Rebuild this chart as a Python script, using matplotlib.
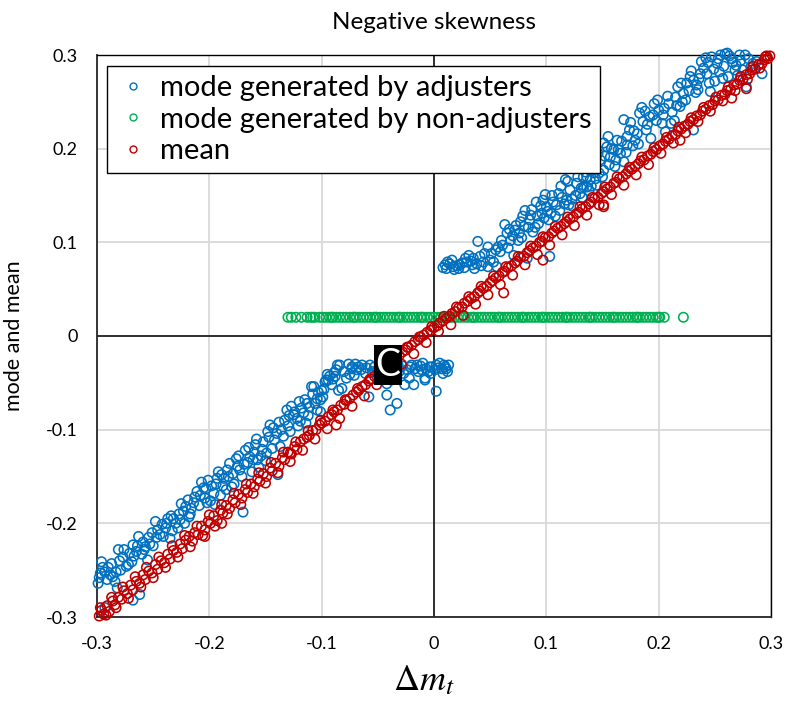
import matplotlib
matplotlib.use("Agg")
import matplotlib.pyplot as plt
from matplotlib.lines import Line2D

plt.rcParams['font.family'] = ['Lato', 'DejaVu Sans']
plt.rcParams['mathtext.fontset'] = 'stix'

# ---------------- data ----------------
adj_x = [
    -0.299, -0.297, -0.296, -0.293, -0.288, -0.286, -0.281, -0.282, -0.293, -0.277,
    -0.274, -0.269, -0.268, -0.268, -0.262, -0.263, -0.259, -0.257, -0.255, -0.251,
    -0.248, -0.244, -0.239, -0.235, -0.232, -0.228, -0.225, -0.222, -0.219, -0.216,
    -0.211, -0.207, -0.204, -0.201, -0.196, -0.195, -0.192, -0.189, -0.185, -0.182,
    -0.180, -0.176, -0.173, -0.170, -0.168, -0.164, -0.159, -0.156, -0.152, -0.149,
    -0.146, -0.142, -0.139, -0.136,
    -0.290, -0.284, -0.279, -0.271, -0.265, -0.260, -0.253, -0.247, -0.242, -0.237,
    -0.233, -0.227, -0.223, -0.218, -0.214, -0.209, -0.203, -0.199, -0.194, -0.190,
    -0.187, -0.183, -0.178, -0.175, -0.171, -0.166, -0.162, -0.160, -0.157, -0.153,
    -0.150, -0.147, -0.144, -0.140, -0.137,
    -0.131, -0.127, -0.122, -0.118, -0.113, -0.109, -0.104, -0.101, -0.099, -0.097,
    -0.094, -0.088, -0.084, -0.082, -0.078, -0.073, -0.069, -0.064, -0.061, -0.058,
    -0.042, -0.039, -0.033, -0.038, -0.026, -0.020, -0.018, -0.014, -0.010, -0.008,
    -0.004, 0.001, 0.002, 0.005, 0.010, -0.021, -0.015, -0.011, -0.007, -0.002,
    0.002, 0.007, 0.011, -0.042, -0.008, -0.086, -0.073, -0.067, -0.057, -0.107,
    -0.096, -0.093, -0.085, -0.101, -0.104,
    -0.134, -0.130, -0.128, -0.125, -0.121, -0.119, -0.116, -0.114, -0.111, -0.106,
    -0.103, -0.098, -0.091, -0.089, -0.076, -0.071, -0.053, -0.050, -0.047, -0.035,
    -0.031, -0.028, -0.024, 0.013, 0.008, -0.003,
    -0.298, -0.295, -0.291, -0.287, -0.283, -0.280, -0.276, -0.272, -0.267, -0.264,
    -0.258, -0.254, -0.250, -0.246, -0.241, -0.238, -0.234, -0.230, -0.226, -0.221,
    -0.217, -0.213, -0.208, -0.205, -0.202, -0.198, -0.193, -0.188, -0.184, -0.179,
    -0.174, -0.169, -0.165, -0.161, -0.158, -0.154, -0.148, -0.143, -0.138, -0.133,
    -0.129, -0.124, -0.120, -0.115, -0.112, -0.108, -0.100, -0.095, -0.090, -0.087,
    -0.080, -0.075, -0.070, -0.065, -0.060, -0.055, -0.044, -0.040, -0.032, -0.027,
    -0.022, -0.017, -0.012, -0.005, 0.004, 0.009, 0.012,
    0.010, 0.011, 0.016, 0.017, 0.022, 0.025, 0.028, 0.031, 0.034, 0.036,
    0.039, 0.041, 0.044, 0.048, 0.048, 0.051, 0.056, 0.057, 0.060, 0.065,
    0.063, 0.068, 0.071, 0.072, 0.075, 0.077, 0.080, 0.081, 0.083, 0.085,
    0.088, 0.091, 0.093, 0.096, 0.099, 0.100, 0.102, 0.103, 0.106, 0.111,
    0.112, 0.117, 0.118, 0.121, 0.124, 0.127, 0.130, 0.133, 0.136, 0.139,
    0.142, 0.145, 0.148, 0.151, 0.154, 0.157, 0.161, 0.164, 0.169, 0.172,
    0.133, 0.136, 0.142, 0.146, 0.151, 0.155, 0.160, 0.163, 0.169, 0.172,
    0.174, 0.179, 0.183, 0.186, 0.189, 0.192, 0.193, 0.196, 0.200, 0.203,
    0.206, 0.209, 0.212, 0.215, 0.217, 0.219, 0.222, 0.225, 0.228, 0.231,
    0.234, 0.235, 0.231, 0.238, 0.240, 0.243, 0.246, 0.247, 0.250, 0.252,
    0.255, 0.258, 0.261, 0.262, 0.265, 0.269, 0.272, 0.275, 0.278, 0.280,
    0.284, 0.292,
    0.014, 0.020, 0.027, 0.033, 0.042, 0.053, 0.059, 0.066, 0.070, 0.078,
    0.086, 0.090, 0.095, 0.098, 0.104, 0.109, 0.114, 0.120, 0.126, 0.131,
    0.138, 0.144, 0.150, 0.156, 0.166, 0.177, 0.181, 0.188, 0.198, 0.205,
    0.214, 0.221, 0.227, 0.237, 0.244, 0.254, 0.266, 0.259, 0.270,
    0.008, 0.012, 0.018, 0.023, 0.029, 0.035, 0.038, 0.045, 0.050, 0.055,
    0.061, 0.067, 0.073, 0.076, 0.079, 0.084, 0.087, 0.092, 0.097, 0.101,
    0.105, 0.108, 0.113, 0.116, 0.119, 0.123, 0.128, 0.132, 0.135, 0.140,
    0.143, 0.147, 0.152, 0.158, 0.162, 0.167, 0.171, 0.175, 0.178, 0.182,
    0.185, 0.190, 0.195, 0.199, 0.204, 0.208, 0.211, 0.216, 0.220, 0.224,
    0.229, 0.233, 0.236, 0.242, 0.245, 0.249, 0.253, 0.257, 0.263, 0.268,
    0.273, 0.277, 0.282, 0.287,
]
adj_y = [
    -0.264, -0.253, -0.241, -0.252, -0.255, -0.257, -0.228, -0.269, -0.290, -0.236,
    -0.246, -0.241, -0.223, -0.282, -0.276, -0.214, -0.220, -0.225, -0.239, -0.210,
    -0.198, -0.212, -0.205, -0.216, -0.195, -0.205, -0.179, -0.200, -0.175, -0.184,
    -0.166, -0.156, -0.173, -0.154, -0.168, -0.180, -0.145, -0.148, -0.164, -0.136,
    -0.161, -0.131, -0.143, -0.188, -0.122, -0.129, -0.116, -0.140, -0.113, -0.125,
    -0.095, -0.111, -0.148, -0.100,
    -0.247, -0.262, -0.250, -0.232, -0.230, -0.233, -0.222, -0.215, -0.201, -0.195,
    -0.208, -0.190, -0.187, -0.193, -0.178, -0.181, -0.163, -0.176, -0.158, -0.170,
    -0.152, -0.150, -0.158, -0.139, -0.150, -0.135, -0.145, -0.124, -0.132, -0.121,
    -0.133, -0.108, -0.120, -0.104, -0.118,
    -0.079, -0.075, -0.088, -0.077, -0.072, -0.054, -0.067, -0.081, -0.065, -0.049,
    -0.047, -0.043, -0.031, -0.056, -0.045, -0.033, -0.036, -0.031, -0.040, -0.065,
    -0.063, -0.079, -0.072, -0.047, -0.052, -0.031, -0.052, -0.038, -0.029, -0.045,
    -0.033, -0.036, -0.059, -0.029, -0.033, -0.033, -0.031, -0.036, -0.035, -0.033,
    -0.031, -0.035, -0.035, -0.051, -0.047, -0.031, -0.035, -0.033, -0.031, -0.054,
    -0.047, -0.043, -0.058, -0.068, -0.079,
    -0.107, -0.096, -0.102, -0.084, -0.096, -0.091, -0.082, -0.093, -0.076, -0.072,
    -0.060, -0.057, -0.052, -0.039, -0.030, -0.042, -0.033, -0.036, -0.030, -0.034,
    -0.038, -0.032, -0.036, -0.031, -0.040, -0.040,
    -0.258, -0.247, -0.260, -0.243, -0.252, -0.240, -0.228, -0.244, -0.235, -0.224,
    -0.228, -0.215, -0.224, -0.207, -0.214, -0.200, -0.192, -0.200, -0.196, -0.182,
    -0.190, -0.172, -0.170, -0.162, -0.178, -0.160, -0.152, -0.160, -0.143, -0.147,
    -0.128, -0.137, -0.119, -0.132, -0.110, -0.128, -0.102, -0.098, -0.092, -0.090,
    -0.085, -0.081, -0.070, -0.068, -0.085, -0.062, -0.058, -0.041, -0.046, -0.036,
    -0.038, -0.041, -0.030, -0.036, -0.034, -0.038, -0.035, -0.032, -0.031, -0.040,
    -0.045, -0.035, -0.032, -0.038, -0.034, -0.031, -0.038,
    0.076, 0.072, 0.081, 0.074, 0.072, 0.078, 0.083, 0.086, 0.076, 0.072,
    0.101, 0.085, 0.079, 0.074, 0.095, 0.088, 0.074, 0.095, 0.102, 0.110,
    0.119, 0.102, 0.086, 0.113, 0.102, 0.122, 0.117, 0.134, 0.083, 0.124,
    0.111, 0.143, 0.120, 0.131, 0.151, 0.138, 0.124, 0.085, 0.143, 0.152,
    0.134, 0.167, 0.145, 0.156, 0.138, 0.163, 0.152, 0.170, 0.159, 0.167,
    0.174, 0.161, 0.188, 0.177, 0.202, 0.191, 0.181, 0.199, 0.186, 0.204,
    0.159, 0.170, 0.181, 0.195, 0.206, 0.213, 0.199, 0.209, 0.231, 0.213,
    0.220, 0.209, 0.238, 0.229, 0.220, 0.234, 0.211, 0.248, 0.241, 0.227,
    0.218, 0.248, 0.239, 0.255, 0.266, 0.245, 0.259, 0.270, 0.277, 0.273,
    0.268, 0.263, 0.220, 0.293, 0.286, 0.280, 0.261, 0.298, 0.272, 0.291,
    0.300, 0.288, 0.302, 0.277, 0.296, 0.289, 0.300, 0.284, 0.266, 0.296,
    0.291, 0.280,
    0.077, 0.075, 0.073, 0.080, 0.075, 0.079, 0.090, 0.094, 0.107, 0.105,
    0.129, 0.116, 0.139, 0.126, 0.131, 0.140, 0.148, 0.140, 0.150, 0.158,
    0.155, 0.168, 0.170, 0.183, 0.195, 0.203, 0.216, 0.240, 0.230, 0.243,
    0.230, 0.250, 0.262, 0.280, 0.292, 0.282, 0.292, 0.301, 0.278,
    0.073, 0.079, 0.071, 0.076, 0.079, 0.083, 0.077, 0.088, 0.081, 0.092,
    0.097, 0.114, 0.118, 0.110, 0.128, 0.116, 0.135, 0.128, 0.145, 0.133,
    0.150, 0.128, 0.160, 0.141, 0.165, 0.146, 0.170, 0.148, 0.175, 0.160,
    0.186, 0.174, 0.192, 0.200, 0.188, 0.208, 0.196, 0.228, 0.219, 0.205,
    0.244, 0.226, 0.236, 0.252, 0.236, 0.256, 0.227, 0.246, 0.270, 0.252,
    0.283, 0.260, 0.275, 0.297, 0.270, 0.285, 0.296, 0.275, 0.299, 0.284,
    0.294, 0.300, 0.287, 0.293,
]

nonadj_x = [
    -0.130, -0.127, -0.123, -0.118, -0.113, -0.110, -0.106, -0.102, -0.099, -0.096,
    -0.093, -0.090, -0.087, -0.084, -0.081, -0.078, -0.075, -0.072, -0.069, -0.066,
    -0.063, -0.060, -0.057, -0.054, -0.051, -0.048, -0.045, -0.042, -0.039, -0.036,
    -0.033, -0.030, -0.027, -0.024, -0.021, -0.018, -0.015, -0.012, -0.009, -0.006,
    -0.003, 0.000, 0.003, 0.006, 0.009, 0.012, 0.015, 0.018, 0.021, 0.024,
    0.027, 0.030, 0.033, 0.036, 0.039, 0.042, 0.045, 0.048, 0.051, 0.054,
    0.057, 0.060, 0.063, 0.066, 0.069, 0.072, 0.075, 0.078, 0.081, 0.084,
    0.087, 0.090, 0.093, 0.096, 0.099, 0.102, 0.105, 0.108, 0.111, 0.114,
    0.117, 0.120, 0.123, 0.126, 0.129, 0.132, 0.135, 0.138, 0.141, 0.144,
    0.147, 0.150, 0.153, 0.156, 0.159, 0.162, 0.165, 0.168, 0.171, 0.174,
    0.177, 0.180, 0.183, 0.186, 0.189, 0.192, 0.195, 0.198, 0.201, 0.205,
    0.222,
    -0.108, -0.091, -0.071, -0.052, -0.031, -0.011, 0.013, 0.035, 0.058, 0.079,
    0.097, 0.118, 0.139, 0.160, 0.181, 0.200,
]
nonadj_y = [0.02] * len(nonadj_x)

mean_x = [
    -0.298, -0.296, -0.294, -0.291, -0.289, -0.286, -0.284, -0.281, -0.278, -0.276,
    -0.273, -0.270, -0.268, -0.265, -0.262, -0.259, -0.257, -0.254, -0.251, -0.248,
    -0.246, -0.243, -0.240, -0.237, -0.235, -0.232, -0.229, -0.226, -0.224, -0.221,
    -0.218, -0.215, -0.213, -0.210, -0.207, -0.204, -0.201, -0.199, -0.196, -0.193,
    -0.190, -0.188, -0.185, -0.182, -0.179, -0.177, -0.174, -0.171, -0.168, -0.166,
    -0.163, -0.160, -0.157, -0.155, -0.152, -0.149, -0.146, -0.144, -0.141, -0.138,
    -0.135, -0.133, -0.130, -0.127, -0.124, -0.122, -0.119, -0.116, -0.113, -0.111,
    -0.108, -0.105, -0.102, -0.100, -0.097, -0.094, -0.091, -0.089, -0.086, -0.083,
    -0.080, -0.078, -0.075, -0.072, -0.069, -0.067, -0.064, -0.061, -0.058, -0.056,
    -0.053, -0.050, -0.047, -0.045, -0.042, -0.039, -0.036, -0.034, -0.031, -0.028,
    -0.025, -0.023, -0.020, -0.017, -0.014, -0.012, -0.009, -0.006, -0.003, 0.000,
    0.003, 0.005, 0.008, 0.011, 0.014, 0.016, 0.019, 0.022, 0.025, 0.027,
    0.030, 0.033, 0.036, 0.039, 0.041, 0.044, 0.047, 0.050, 0.052, 0.055,
    0.058, 0.061, 0.063, 0.066, 0.069, 0.072, 0.074, 0.077, 0.080, 0.083,
    0.085, 0.088, 0.091, 0.094, 0.096, 0.099, 0.102, 0.105, 0.107, 0.110,
    0.113, 0.116, 0.118, 0.121, 0.124, 0.127, 0.129, 0.132, 0.135, 0.138,
    0.140, 0.143, 0.146, 0.149, 0.151, 0.154, 0.157, 0.160, 0.162, 0.165,
    0.168, 0.171, 0.173, 0.176, 0.179, 0.182, 0.184, 0.187, 0.190, 0.193,
    0.195, 0.198, 0.201, 0.204, 0.206, 0.209, 0.212, 0.215, 0.217, 0.220,
    0.223, 0.226, 0.228, 0.231, 0.234, 0.237, 0.239, 0.242, 0.245, 0.248,
    0.250, 0.253, 0.256, 0.259, 0.261, 0.264, 0.267, 0.270, 0.272, 0.275,
    0.278, 0.281, 0.283, 0.286, 0.289, 0.292, 0.294, 0.297, 0.299, 0.296,
    -0.087, -0.128, -0.204, -0.189, 0.097, 0.151, 0.062, 0.219, 0.265, 0.278,
    0.151,
    -0.297, -0.292, -0.287, -0.283, -0.277, -0.272, -0.266, -0.261, -0.256, -0.250,
    -0.245, -0.239, -0.233, -0.228, -0.222, -0.217, -0.211, -0.206, -0.200, -0.195,
    -0.189, -0.184, -0.178, -0.172, -0.167, -0.161, -0.156, -0.150, -0.145, -0.139,
    -0.134, -0.128, -0.123, -0.117, -0.112, -0.106, -0.101, -0.095, -0.090, -0.084,
    -0.079, -0.073, -0.068, -0.062, -0.057, -0.051, -0.046, -0.040, -0.035, -0.029,
    -0.024, -0.018, -0.013, -0.007, -0.002, 0.004, 0.009, 0.015, 0.020, 0.026,
    0.031, 0.037, 0.042, 0.048, 0.053, 0.059, 0.064, 0.070, 0.075, 0.081,
    0.086, 0.092, 0.097, 0.103, 0.108, 0.114, 0.119, 0.125, 0.130, 0.136,
    0.141, 0.147, 0.152, 0.158, 0.163, 0.169, 0.174, 0.180, 0.185, 0.191,
    0.196, 0.202, 0.207, 0.213, 0.218, 0.224, 0.229, 0.235, 0.240, 0.246,
    0.251, 0.257, 0.262, 0.268, 0.273, 0.279, 0.284, 0.290, 0.295,
]
mean_y = [
    -0.299, -0.293, -0.297, -0.288, -0.294, -0.283, -0.287, -0.279, -0.281, -0.272,
    -0.275, -0.266, -0.271, -0.262, -0.264, -0.255, -0.260, -0.251, -0.253, -0.244,
    -0.249, -0.240, -0.242, -0.233, -0.238, -0.229, -0.231, -0.222, -0.227, -0.218,
    -0.214, -0.219, -0.210, -0.212, -0.203, -0.207, -0.198, -0.200, -0.192, -0.197,
    -0.186, -0.189, -0.181, -0.184, -0.175, -0.178, -0.169, -0.173, -0.164, -0.167,
    -0.158, -0.161, -0.153, -0.155, -0.147, -0.150, -0.141, -0.144, -0.136, -0.139,
    -0.130, -0.132, -0.124, -0.126, -0.118, -0.121, -0.113, -0.110, -0.108, -0.106,
    -0.101, -0.100, -0.095, -0.093, -0.091, -0.086, -0.084, -0.081, -0.079, -0.074,
    -0.073, -0.069, -0.067, -0.063, -0.060, -0.058, -0.054, -0.052, -0.048, -0.046,
    -0.043, -0.040, -0.038, -0.034, -0.032, -0.028, -0.026, -0.023, -0.021, -0.017,
    -0.015, -0.012, -0.010, -0.006, -0.004, -0.001, 0.001, 0.004, 0.006, 0.009,
    0.011, 0.014, 0.016, 0.019, 0.021, 0.024, 0.026, 0.030, 0.031, 0.035,
    0.037, 0.040, 0.042, 0.046, 0.048, 0.051, 0.053, 0.057, 0.059, 0.062,
    0.064, 0.068, 0.069, 0.073, 0.075, 0.078, 0.080, 0.084, 0.085, 0.089,
    0.091, 0.094, 0.096, 0.100, 0.101, 0.105, 0.106, 0.110, 0.112, 0.115,
    0.117, 0.120, 0.122, 0.125, 0.127, 0.131, 0.132, 0.136, 0.138, 0.141,
    0.143, 0.147, 0.148, 0.152, 0.154, 0.157, 0.159, 0.163, 0.164, 0.168,
    0.170, 0.173, 0.176, 0.178, 0.181, 0.184, 0.187, 0.188, 0.192, 0.194,
    0.197, 0.199, 0.203, 0.205, 0.208, 0.210, 0.214, 0.215, 0.219, 0.221,
    0.224, 0.226, 0.229, 0.231, 0.235, 0.236, 0.240, 0.242, 0.246, 0.247,
    0.251, 0.252, 0.257, 0.258, 0.262, 0.263, 0.268, 0.269, 0.273, 0.274,
    0.279, 0.280, 0.284, 0.285, 0.290, 0.291, 0.295, 0.296, 0.299, 0.299,
    -0.095, -0.125, -0.214, -0.200, 0.081, 0.140, 0.046, 0.209, 0.254, 0.264,
    0.138,
    -0.290, -0.298, -0.279, -0.290, -0.268, -0.280, -0.257, -0.268, -0.247, -0.258,
    -0.236, -0.247, -0.224, -0.236, -0.213, -0.225, -0.203, -0.213, -0.191, -0.203,
    -0.180, -0.190, -0.168, -0.180, -0.158, -0.168, -0.146, -0.157, -0.135, -0.146,
    -0.124, -0.134, -0.113, -0.122, -0.101, -0.110, -0.090, -0.099, -0.079, -0.088,
    -0.068, -0.075, -0.056, -0.064, -0.046, -0.052, -0.034, -0.041, -0.023, -0.030,
    -0.012, -0.019, -0.001, -0.007, 0.010, 0.005, 0.021, 0.012, 0.031, 0.022,
    0.042, 0.034, 0.053, 0.044, 0.064, 0.055, 0.074, 0.065, 0.085, 0.076,
    0.096, 0.087, 0.106, 0.097, 0.117, 0.108, 0.127, 0.118, 0.138, 0.129,
    0.148, 0.140, 0.159, 0.151, 0.170, 0.161, 0.180, 0.172, 0.191, 0.183,
    0.201, 0.195, 0.212, 0.206, 0.223, 0.217, 0.233, 0.229, 0.244, 0.240,
    0.255, 0.251, 0.266, 0.262, 0.277, 0.274, 0.288, 0.286, 0.298,
]

x_ticks = [-0.3, -0.2, -0.1, 0, 0.1, 0.2, 0.3]
y_ticks = [-0.3, -0.2, -0.1, 0, 0.1, 0.2, 0.3]
tick_labels = ['-0.3', '-0.2', '-0.1', '0', '0.1', '0.2', '0.3']

series_labels = ['mode generated by adjusters',
                 'mode generated by non-adjusters',
                 'mean']
colors = ['#0070C0', '#00B050', '#C00000']

# ---------------- figure ----------------
fig = plt.figure(figsize=(7.86, 7.01), dpi=100)
ax = fig.add_axes([97 / 786, 1 - 617 / 701, 674 / 786, 562 / 701])

ax.set_xlim(-0.3, 0.3)
ax.set_ylim(-0.3, 0.3)
ax.set_xticks(x_ticks)
ax.set_yticks(y_ticks)
ax.set_xticklabels(tick_labels)
ax.set_yticklabels(tick_labels)
ax.tick_params(length=0, labelsize=13, pad=14, colors='black')

ax.grid(True, color='#d9d9d9', linewidth=1.3, zorder=0)
ax.set_axisbelow(True)
ax.axhline(0, color='black', linewidth=1.1, zorder=1)
ax.axvline(0, color='black', linewidth=1.1, zorder=1)

for side in ['top', 'right']:
    ax.spines[side].set_color('black')
    ax.spines[side].set_linewidth(1.0)
for side in ['left', 'bottom']:
    ax.spines[side].set_color('#262626')
    ax.spines[side].set_linewidth(1.3)

xs = [adj_x, nonadj_x, mean_x]
ys = [adj_y, nonadj_y, mean_y]
for xv, yv, c in zip(xs, ys, colors):
    ax.scatter(xv, yv, s=46, facecolors='none', edgecolors=c,
               linewidths=1.15, zorder=3, clip_on=False)

handles = [Line2D([], [], linestyle='none', marker='o', markersize=5,
                  markerfacecolor='none', markeredgecolor=c, markeredgewidth=1.0)
           for c in colors]
leg = ax.legend(handles, series_labels, loc='upper left',
                bbox_to_anchor=(10 / 674, 1 - 11 / 562), borderaxespad=0,
                fontsize=21, frameon=True, fancybox=False, framealpha=1,
                edgecolor='black', handlelength=1.2, handletextpad=0.3,
                labelspacing=0.2, borderpad=0.3)
leg.get_frame().set_linewidth(1.0)
leg.set_zorder(5)

ax.text(-0.041, -0.031, 'C', color='white', fontsize=27, ha='center', va='center',
        zorder=6, bbox=dict(boxstyle='square,pad=0.05', facecolor='black', edgecolor='none'))

ax.set_title('Negative skewness', fontsize=17.5, pad=19)
ax.set_ylabel('mode and mean', fontsize=15.5)
ax.yaxis.set_label_coords(-0.108, 0.5)
ax.set_xlabel(r'$\Delta m_t$', fontsize=26)
ax.xaxis.set_label_coords(0.485, -0.112)
ax.xaxis.label.set_va('center')

fig.savefig('out.png', dpi=100)
